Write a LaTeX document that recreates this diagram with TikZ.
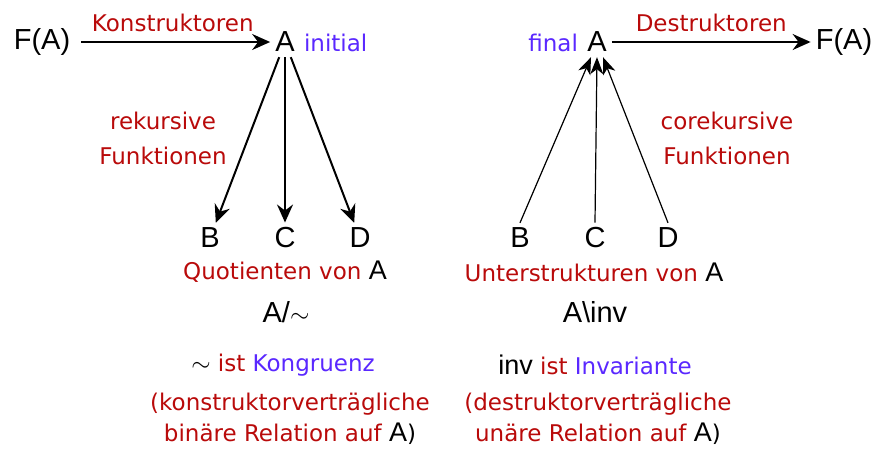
\documentclass[tikz,border=0pt]{standalone}
\usepackage{fontspec}
\setmainfont{Liberation Sans}
\newfontfamily\handfont{DejaVu Sans}
\usetikzlibrary{arrows.meta}
\definecolor{darkred}{RGB}{185,10,10}
\definecolor{violetblue}{RGB}{90,40,255}
\newcommand{\blackA}{{\color{black}\rmfamily\fontsize{27}{30}\selectfont A}}
\newcommand{\bluetext}[1]{{\color{violetblue}#1}}
\tikzstyle{obj} = [inner sep=5pt, font=\fontsize{29}{32}\selectfont]
\tikzstyle{redlabel} = [inner sep=1pt, text=darkred, align=center, font=\handfont\fontsize{23}{35}\selectfont]
\tikzstyle{bluelabel} = [inner sep=1pt, text=violetblue, font=\handfont\fontsize{23}{26}\selectfont]
\tikzstyle{arrow} = [line width=2pt, -{Stealth[length=18pt,width=16pt,inset=6pt]}]
\tikzstyle{thinarrow} = [line width=1.2pt, -{Stealth[length=17pt,width=13pt,inset=5pt]}]

\begin{document}
\begin{tikzpicture}[x=1pt, y=-1pt]
	\useasboundingbox (0,0) rectangle (876,450);

	% initiale Algebra
	\node (fleft) [obj] at (42,42) {F(A)};
	\node (aleft) [obj] at (285,42) {A};
	\node (initial) [bluelabel, anchor=base west] at ([xshift=3pt]aleft.base east) {initial};
	\node (bleft) [obj] at (210,238) {B};
	\node (cleft) [obj] at (285,238) {C};
	\node (dleft) [obj] at (360,238) {D};
	\node (rek) [redlabel] at (163,138) {rekursive\\Funktionen};
	\node (quot) [redlabel] at (285,272) {Quotienten von \blackA};
	\node (quotA) [obj] at (286,312) {A/$\sim$};
	\node (kongr) [redlabel] at (283,365) {{\color{black}$\sim$} ist \bluetext{Kongruenz}};
	\node (kongrtext) [redlabel, font=\handfont\fontsize{23}{31}\selectfont] at (290,419) {(konstruktorverträgliche\\binäre Relation auf \blackA{\color{black})}};

	\draw [arrow, shorten <=6pt] (fleft) -- (aleft) node [midway, above=8pt, redlabel] {Konstruktoren};
	\draw [arrow] (aleft) -- (bleft);
	\draw [arrow] (aleft) -- (cleft);
	\draw [arrow] (aleft) -- (dleft);

	% finale Algebra
	\node (aright) [obj] at (597,42) {A};
	\node (final) [bluelabel, anchor=base east] at ([xshift=-3pt]aright.base west) {final};
	\node (fright) [obj] at (844,42) {F(A)};
	\node (bright) [obj] at (520,238) {B};
	\node (cright) [obj] at (595,238) {C};
	\node (dright) [obj] at (668,238) {D};
	\node (korek) [redlabel] at (727,138) {corekursive\\Funktionen};
	\node (unter) [redlabel] at (594,272) {Unterstrukturen von \blackA};
	\node (invA) [obj] at (595,312) {A\textbackslash inv};
	\node (invar) [redlabel] at (595,365) {{\color{black}\rmfamily\fontsize{27}{30}\selectfont inv} ist \bluetext{Invariante}};
	\node (invtext) [redlabel, font=\handfont\fontsize{23}{31}\selectfont] at (598,419) {(destruktorverträgliche\\unäre Relation auf \blackA{\color{black})}};

	\draw [arrow] (aright) -- (fright) node [midway, above=8pt, redlabel] {Destruktoren};
	\draw [thinarrow] (bright.north) -- ([xshift=-6pt]aright.south);
	\draw [thinarrow] (cright.north) -- (aright.south);
	\draw [thinarrow] (dright.north) -- ([xshift=6pt]aright.south);

\end{tikzpicture}
\end{document}
